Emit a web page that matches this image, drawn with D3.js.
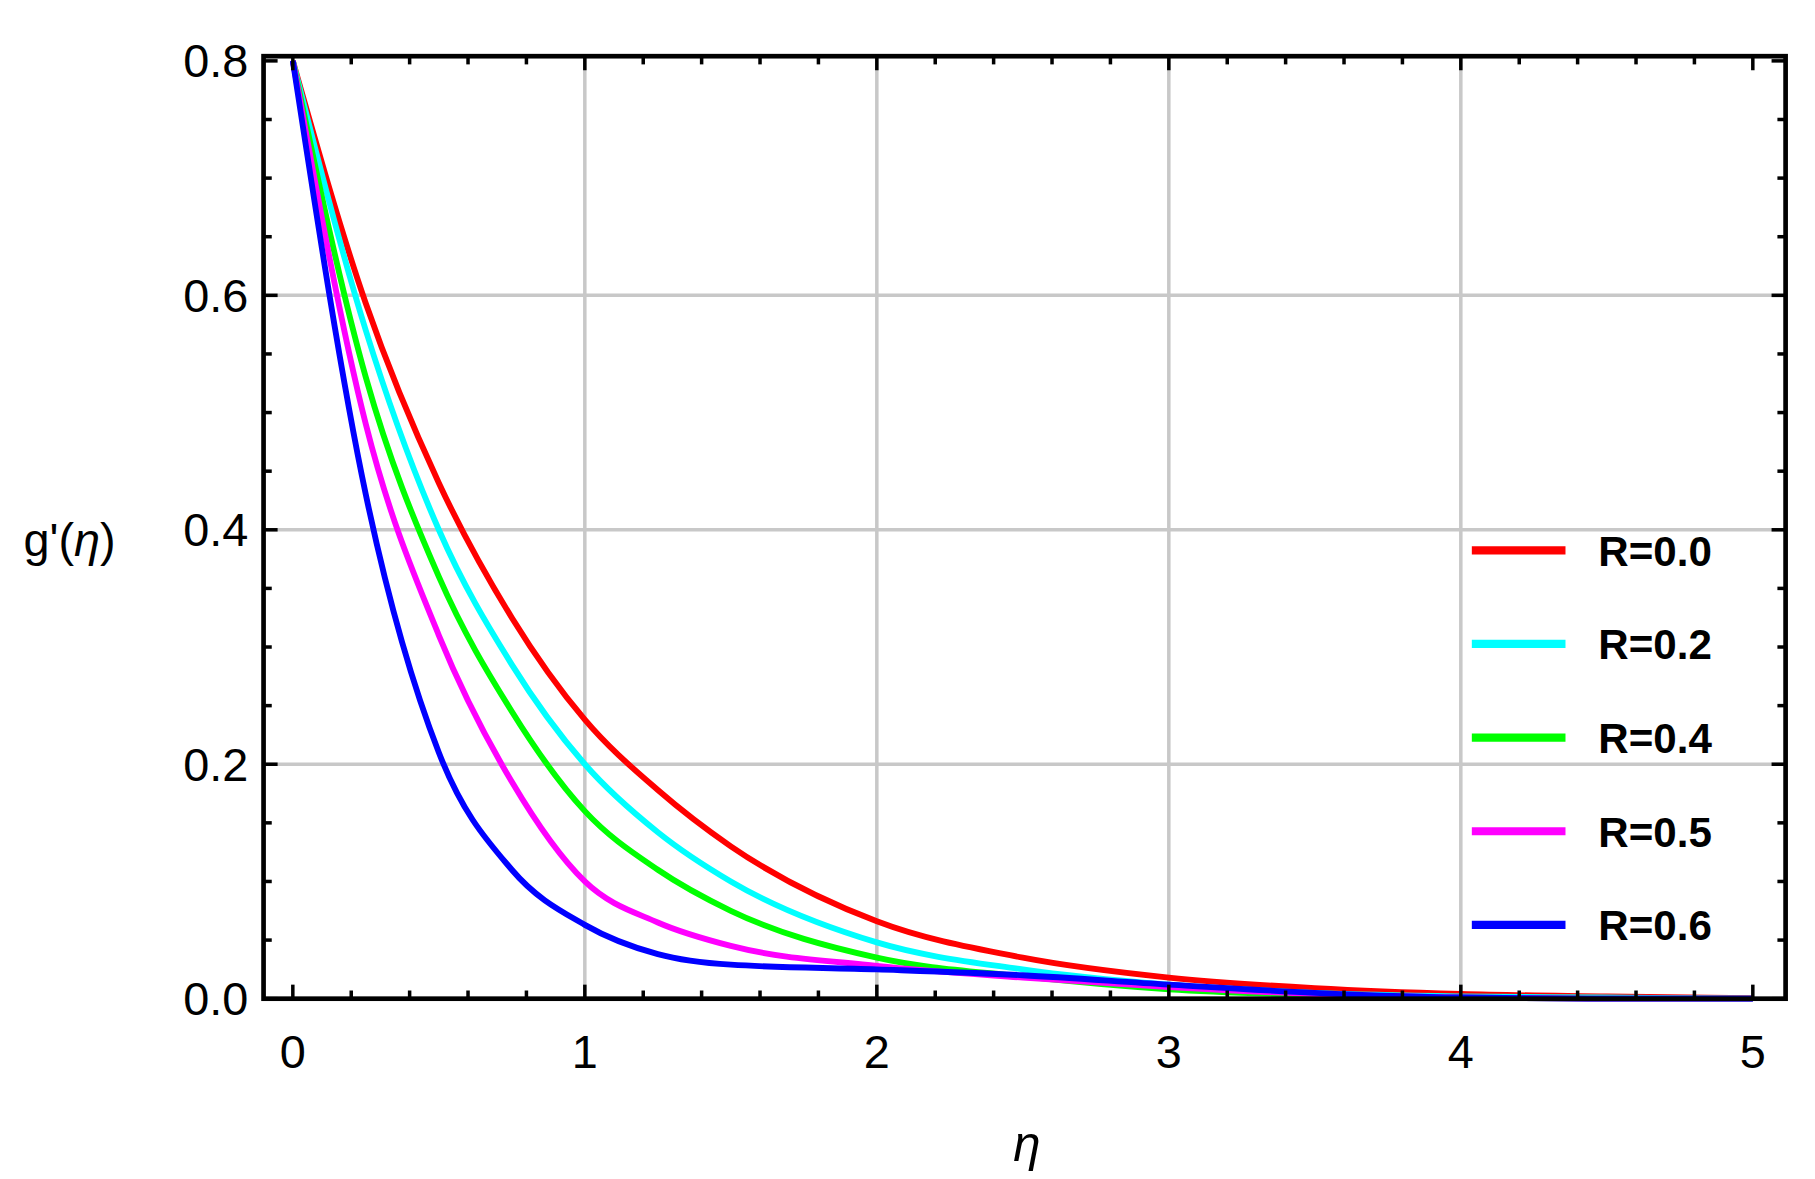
<!DOCTYPE html>
<html><head><meta charset="utf-8">
<script src="https://cdn.jsdelivr.net/npm/d3@7"></script>
<style>body{margin:0;background:#fff}</style>
</head><body>
<svg width="1815" height="1179" viewBox="0 0 1550 1007"></svg>
<script>
const etas = [0, 0.25, 0.5, 0.75, 1, 1.25, 1.5, 2, 2.5, 3, 3.5, 4, 4.5, 5];
const labels = ["R=0.0", "R=0.2", "R=0.4", "R=0.5", "R=0.6"];
const colors = ["#ff0000", "#00ffff", "#00ff00", "#ff00ff", "#0000ff"];
const gR00 = [0.8, 0.593, 0.44, 0.325, 0.238, 0.178, 0.13, 0.066, 0.035, 0.018, 0.009, 0.004, 0.002, 0.0005];
const gR02 = [0.8, 0.57, 0.40, 0.285, 0.20, 0.142, 0.10, 0.048, 0.025, 0.012, 0.005, 0.002, 0.001, 0];
const gR04 = [0.8, 0.53, 0.36, 0.245, 0.16, 0.11, 0.075, 0.035, 0.019, 0.008, 0.003, 0.001, 0, 0];
const gR05 = [0.8, 0.49, 0.31, 0.185, 0.10, 0.065, 0.045, 0.028, 0.018, 0.01, 0.004, 0.001, 0, 0];
const gR06 = [0.8, 0.43, 0.21, 0.11, 0.063, 0.038, 0.029, 0.025, 0.02, 0.012, 0.005, 0.001, 0, 0];
const series = [gR00, gR02, gR04, gR05, gR06];

const svg = d3.select("svg");
const L = 225, R = 1525, T = 48, B = 853;
const x = d3.scaleLinear().domain([0, 5]).range([250, 1497]);
const y = d3.scaleLinear().domain([0, 0.8]).range([B, 52]);

// grid
svg.append("g").selectAll("line").data([1, 2, 3, 4]).enter().append("line")
  .attr("x1", d => x(d)).attr("x2", d => x(d)).attr("y1", T).attr("y2", B)
  .attr("stroke", "#c8c8c8").attr("stroke-width", 3);
svg.append("g").selectAll("line").data([0.2, 0.4, 0.6]).enter().append("line")
  .attr("y1", d => y(d)).attr("y2", d => y(d)).attr("x1", L).attr("x2", R)
  .attr("stroke", "#c8c8c8").attr("stroke-width", 3);

// curves
const line = d3.line().x((d, i) => x(etas[i])).y(d => y(d)).curve(d3.curveMonotoneX);
const plot = svg.append("g");
plot.selectAll("path").data(series).enter().append("path")
  .attr("d", line).attr("fill", "none")
  .attr("stroke", (d, i) => colors[i]).attr("stroke-width", 5);

// ticks
const ticks = svg.append("g").attr("stroke", "#000");
d3.range(0, 5.01, 0.2).forEach(v => {
  const major = Math.abs(v - Math.round(v)) < 1e-6, len = major ? 12 : 7;
  ticks.append("line").attr("x1", x(v)).attr("x2", x(v)).attr("y1", B).attr("y2", B - len).attr("stroke-width", 3);
  ticks.append("line").attr("x1", x(v)).attr("x2", x(v)).attr("y1", T).attr("y2", T + len).attr("stroke-width", 3);
});
d3.range(0, 0.801, 0.05).forEach(v => {
  const major = Math.abs(v * 5 - Math.round(v * 5)) < 1e-6, len = major ? 12 : 7;
  ticks.append("line").attr("y1", y(v)).attr("y2", y(v)).attr("x1", L).attr("x2", L + len).attr("stroke-width", 3);
  ticks.append("line").attr("y1", y(v)).attr("y2", y(v)).attr("x1", R).attr("x2", R - len).attr("stroke-width", 3);
});
svg.append("rect").attr("x", L).attr("y", T).attr("width", R - L).attr("height", B - T)
  .attr("fill", "none").attr("stroke", "#000").attr("stroke-width", 4);

// tick labels
const font = "Liberation Sans, Arial, sans-serif";
svg.append("g").selectAll("text").data([0, 1, 2, 3, 4, 5]).enter().append("text")
  .attr("x", d => x(d)).attr("y", 912).attr("text-anchor", "middle")
  .attr("font-family", font).attr("font-size", 40).text(d => d);
svg.append("g").selectAll("text").data([0, 0.2, 0.4, 0.6, 0.8]).enter().append("text")
  .attr("x", 212).attr("y", d => y(d) + 14).attr("text-anchor", "end")
  .attr("font-family", font).attr("font-size", 40).text(d => d.toFixed(1));

// axis labels
svg.append("text").attr("x", 877).attr("y", 992).attr("text-anchor", "middle")
  .attr("font-family", font).attr("font-size", 42).attr("font-style", "italic").text("η");
const yl = svg.append("text").attr("x", 20).attr("y", 475).attr("font-family", font).attr("font-size", 40);
yl.append("tspan").text("g'(");
yl.append("tspan").attr("font-style", "italic").text("η");
yl.append("tspan").text(")");

// legend
const leg = svg.append("g").selectAll("g").data(labels).enter().append("g")
  .attr("transform", (d, i) => `translate(0,${470 + i * 80})`);
leg.append("line").attr("x1", 1257).attr("x2", 1337).attr("stroke", (d, i) => colors[i]).attr("stroke-width", 7);
leg.append("text").attr("x", 1365).attr("y", 13).attr("font-family", font)
  .attr("font-weight", "bold").attr("font-size", 36).text(d => d);
</script>
</body></html>
